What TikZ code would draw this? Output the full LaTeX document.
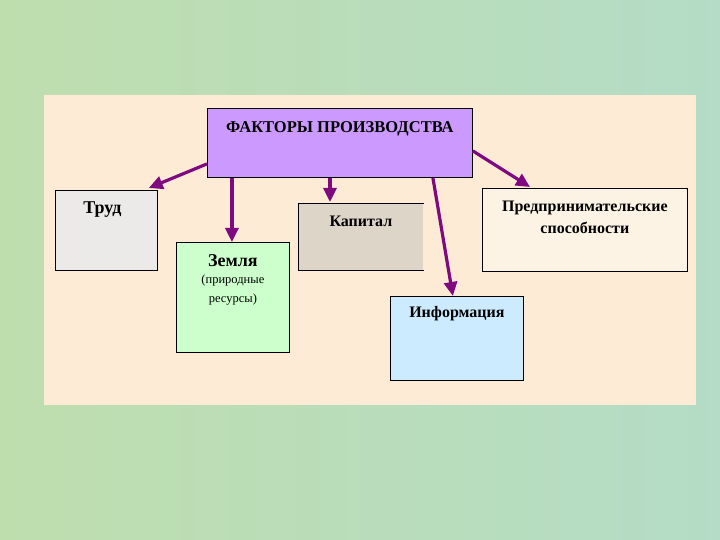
\documentclass[tikz,border=0pt]{standalone}
\usepackage{fontspec}
\setmainfont{Liberation Serif}
\usetikzlibrary{arrows.meta,calc}
\definecolor{bgL}{HTML}{BFDEAE}
\definecolor{bgR}{HTML}{B4DCC6}
\definecolor{panel}{HTML}{FDEBD6}
\definecolor{topc}{HTML}{CC99FF}
\definecolor{trudc}{HTML}{ECEAE8}
\definecolor{zemc}{HTML}{CCFFCC}
\definecolor{kapc}{HTML}{DDD5C8}
\definecolor{predc}{HTML}{FDF3E4}
\definecolor{infoc}{HTML}{CCEBFF}
\definecolor{arrc}{HTML}{7F0A7F}
\tikzset{
  box/.style={draw=black, line width=0.8pt, rectangle, inner sep=0pt, anchor=north west},
  lbl/.style={font=\bfseries\fontsize{16}{18}\selectfont, align=center, anchor=north, inner sep=0pt},
  sub/.style={font=\fontsize{12.5}{19}\selectfont, align=center, anchor=north, inner sep=0pt},
  arr/.style={draw=arrc, line width=3.2pt, -{Triangle[length=14pt,width=13pt]}}
}
\begin{document}
\begin{tikzpicture}[x=1pt,y=-1pt]
\useasboundingbox (0,0) rectangle (720,540);
\shade[left color=bgL, right color=bgR] (0,0) rectangle (720,540);
\fill[panel] (44,95) rectangle (696,405);
% boxes
\node[box, fill=topc, minimum width=265pt, minimum height=69pt] (top) at (207,108) {};
\node[box, fill=trudc, minimum width=102pt, minimum height=80pt] (trud) at (55,190) {};
\node[box, fill=zemc, minimum width=113pt, minimum height=110pt] (zem) at (176,242) {};
\node[box, draw=none, fill=kapc, minimum width=125pt, minimum height=67pt] (kap) at (298,203) {};
\draw[line width=0.8pt] (kap.north east) -- (kap.north west) -- (kap.south west) -- (kap.south east);
\node[box, fill=predc, minimum width=205pt, minimum height=83pt] (pred) at (482,188) {};
\node[box, fill=infoc, minimum width=133pt, minimum height=84pt] (info) at (390,296) {};
% labels
\node[lbl, font=\bfseries\fontsize{16.5}{18}\selectfont] (topt) at ($(top.north)+(0,13)$) {ФАКТОРЫ ПРОИЗВОДСТВА};
\node[lbl, font=\bfseries\fontsize{18}{20}\selectfont] (trudt) at ($(trud.north)+(-4,12)$) {Труд};
\node[lbl, font=\bfseries\fontsize{18}{20}\selectfont] (zemt) at ($(zem.north)+(0,12)$) {Земля};
\node[sub] (zems) at ($(zem.north)+(0,33)$) {(природные\\ресурсы)};
\node[lbl] (kapt) at ($(kap.north)+(0,13)$) {Капитал};
\node[lbl, font=\bfseries\fontsize{16}{22}\selectfont] (predt) at ($(pred.north)+(0,13)$) {Предпринимательские\\способности};
\node[lbl] (infot) at ($(info.north)+(0,10)$) {Информация};
% arrows
\draw[arr] ([yshift=-21pt]top.west) -- ([xshift=-9pt,yshift=2pt]trud.north east);
\draw[arr] ([xshift=-1pt]top.south -| zem.north) -- ([xshift=-1pt]zem.north);
\draw[arr] ([xshift=32pt]top.south -| kap.west) -- ([xshift=32pt,yshift=1pt]kap.north west);
\draw[arr] ([xshift=93pt]top.south) -- ([xshift=-4pt]info.north);
\draw[arr] ([yshift=-8pt]top.east) -- ([xshift=48pt,yshift=1pt]pred.north west);
\end{tikzpicture}
\end{document}
